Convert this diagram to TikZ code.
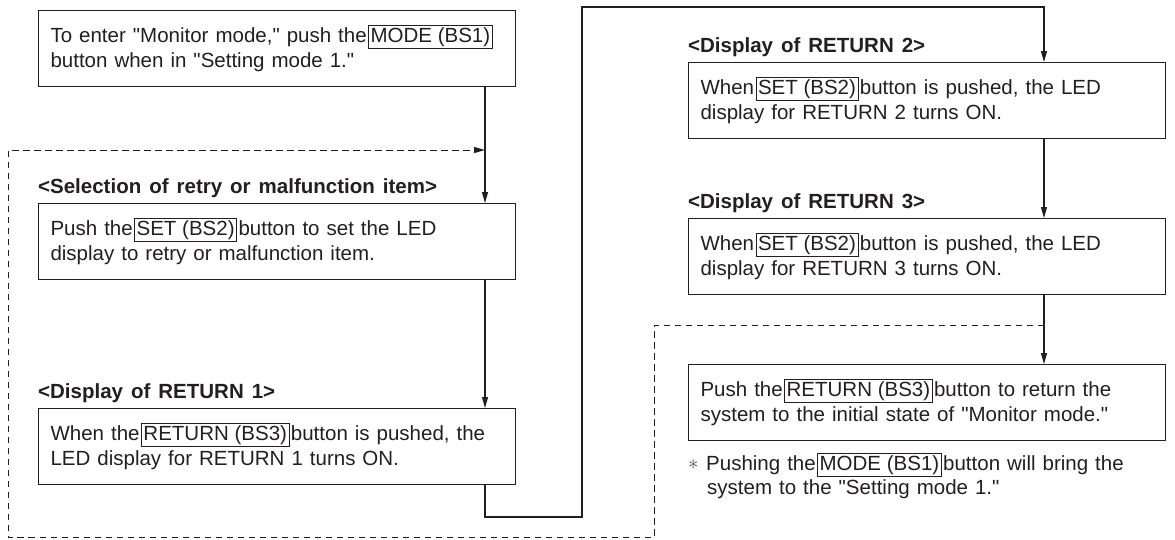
\documentclass[tikz,border=0pt]{standalone}
\usepackage{fontspec}
\setmainfont{Liberation Sans}[Ligatures=TeXOff]
\usetikzlibrary{arrows.meta}
\definecolor{ink}{HTML}{231F20}
\newcommand{\wide}{\spaceskip=7pt plus 1pt minus 1pt\relax}
\newcommand{\widet}{\spaceskip=8pt plus 1pt minus 1pt\relax}
\newcommand{\btn}[1]{\hspace{1.5pt}{\spaceskip=0pt\setlength{\fboxsep}{1.6pt}\setlength{\fboxrule}{0.8pt}\fbox{#1}}\hspace{1.5pt}}
\newcommand{\twolines}[2]{\wide\mbox{#1}\\\wide\mbox{#2}}
\tikzset{
  stepbox/.style={draw=ink, line width=1.1pt, anchor=north west, minimum height=76pt,
    text width=453pt, inner xsep=12pt, inner ysep=0pt, align=left, text=ink,
    font=\fontsize{20.5}{25.5}\selectfont},
  title/.style={anchor=base west, inner sep=0pt, text=ink, font=\bfseries\fontsize{20.5}{25}\selectfont\widet},
  conn/.style={draw=ink, line width=1.1pt, -{Triangle[length=11pt,width=6pt]}},
  dashline/.style={draw=ink, line width=1pt, dash pattern=on 6.5pt off 4.5pt}
}
\begin{document}
\begin{tikzpicture}[x=1pt,y=-1pt]
\useasboundingbox (0,0) rectangle (1175,539);
% axes of the vertical connectors
\coordinate (axL) at (485,0);
\coordinate (axR) at (1044,0);
% boxes
\node[stepbox] (b1) at (38,10) {\twolines{To enter "Monitor mode," push the\btn{MODE (BS1)}}{button when in "Setting mode 1."}};
\node[title] (t2) at (38,193) {<Selection of retry or malfunction item>};
\node[stepbox] (b2) at (38,203) {\twolines{Push the\btn{SET (BS2)}button to set the LED}{display to retry or malfunction item.}};
\node[title] (t3) at (38,398) {<Display of RETURN 1>};
\node[stepbox] (b3) at (38,408) {\twolines{When the\btn{RETURN (BS3)}button is pushed, the}{LED display for RETURN 1 turns ON.}};
\node[title] (t4) at (688,52) {<Display of RETURN 2>};
\node[stepbox] (b4) at (688,62) {\twolines{When\btn{SET (BS2)}button is pushed, the LED}{display for RETURN 2 turns ON.}};
\node[title] (t5) at (688,208) {<Display of RETURN 3>};
\node[stepbox] (b5) at (688,218) {\twolines{When\btn{SET (BS2)}button is pushed, the LED}{display for RETURN 3 turns ON.}};
\node[stepbox] (b6) at (688,364) {\twolines{Push the\btn{RETURN (BS3)}button to return the}{system to the initial state of "Monitor mode."}};
\node[anchor=north west, inner sep=0pt, align=left, text=ink, font=\fontsize{20.5}{24}\selectfont\wide] (note) at (688,453)
  {\makebox[18pt][l]{\raisebox{1pt}{\color{ink!80}$\ast$}}Pushing the\btn{MODE (BS1)}button will bring the\\\hspace*{19pt}system to the "Setting mode 1."};
% named points of the connectors
\coordinate (dashA) at (8,150);
\coordinate (dashB) at (8,537);
\coordinate (dashC) at (654,537);
\coordinate (dashD) at (654,325);
\coordinate (solA) at (485,517);
\coordinate (solB) at (582,517);
\coordinate (solC) at (582,7);
% solid connectors
\draw[conn] (b1.south -| axL) -- (b2.north -| axL);
\draw[conn] (b2.south -| axL) -- (b3.north -| axL);
\draw[conn] (b3.south -| axL) -- (solA) -- (solB) -- (solC) -- (solC -| axR) -- (b4.north -| axR);
\draw[conn] (b4.south -| axR) -- (b5.north -| axR);
\draw[conn] (b5.south -| axR) -- (b6.north -| axR);
% dashed return loop
\draw[dashline, -{Triangle[length=11pt,width=6pt]}] (dashD -| axR) -- (dashD) -- (dashC) -- (dashB) -- (dashA) -- (dashA -| axL);
\end{tikzpicture}
\end{document}
